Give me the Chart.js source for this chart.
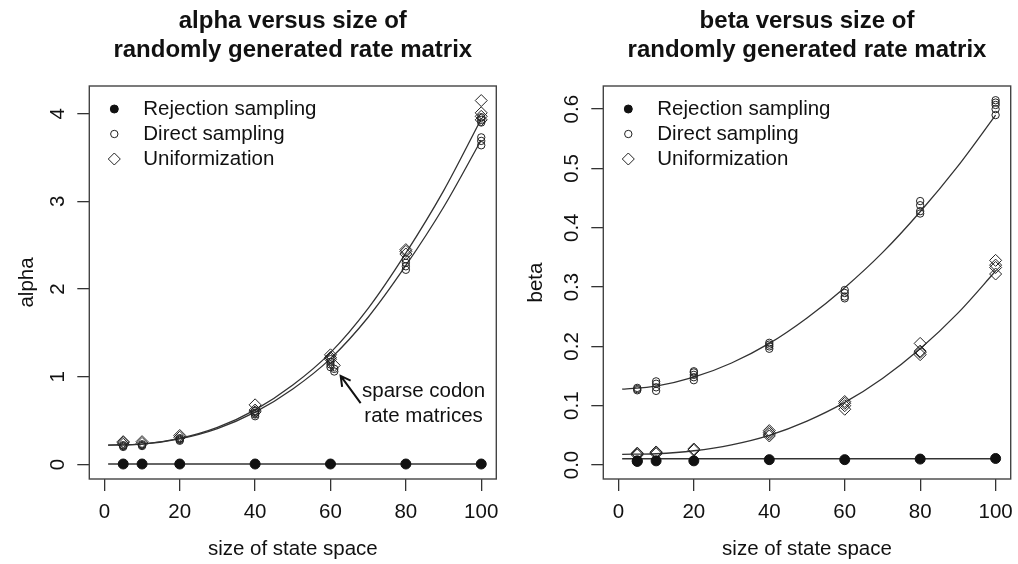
<!DOCTYPE html>
<html>
<head>
<meta charset="utf-8">
<script src="https://cdn.jsdelivr.net/npm/chart.js@4/dist/chart.umd.min.js"></script>
<style>
  html, body { margin: 0; padding: 0; background: #fff; }
  #wrap { position: relative; width: 1018px; height: 564px; }
  canvas { position: absolute; top: 0; }
  #alphaChart { left: 0; }
  #betaChart { left: 509px; }
</style>
</head>
<body>
<div id="wrap">
  <canvas id="alphaChart" width="509" height="564"></canvas>
  <canvas id="betaChart" width="509" height="564"></canvas>
</div>
<script>
const sizes = [5, 10, 20, 40, 60, 80, 100];
const xTicks = [0, 20, 40, 60, 80, 100];
const alphaTicks = [0, 1, 2, 3, 4];
const alphaTickLabels = ["0", "1", "2", "3", "4"];
const betaTicks = [0, 0.1, 0.2, 0.3, 0.4, 0.5, 0.6];
const betaTickLabels = ["0.0", "0.1", "0.2", "0.3", "0.4", "0.5", "0.6"];
const legendLabels = ["Rejection sampling", "Direct sampling", "Uniformization"];

const alphaTitle = ["alpha versus size of", "randomly generated rate matrix"];
const betaTitle = ["beta versus size of", "randomly generated rate matrix"];

// alpha panel, replicate values for each size
const alphaRejection = [[0.005], [0.005], [0.005], [0.005], [0.005], [0.005], [0.005]];
const alphaDirect = [
    [0.20, 0.21, 0.22],
    [0.21, 0.22, 0.23],
    [0.27, 0.28, 0.29, 0.30],
    [0.55, 0.57, 0.59, 0.61],
    [1.11, 1.14, 1.17, 1.20],
    [2.22, 2.26, 2.30, 2.34],
    [3.64, 3.69, 3.73, 3.90, 3.93, 3.96]
];
const alphaUniform = [
    [0.23, 0.25, 0.26],
    [0.24, 0.26],
    [0.31, 0.33],
    [0.60, 0.62, 0.68],
    [1.20, 1.22, 1.25],
    [2.40, 2.43, 2.45],
    [3.93, 3.97, 4.01, 4.15]
];
// the sparse codon rate matrices
const sparseSize = 61;
const alphaSparseDirect = [1.06, 1.09];
const alphaSparseUniform = [1.13];

// beta panel
const betaRejection = [[0.006, 0.007], [0.007], [0.007], [0.009], [0.009], [0.010], [0.011]];
const betaDirect = [
    [0.126, 0.128, 0.130],
    [0.125, 0.131, 0.137, 0.141],
    [0.143, 0.148, 0.152, 0.156, 0.158],
    [0.196, 0.200, 0.203, 0.206],
    [0.281, 0.284, 0.290, 0.295],
    [0.424, 0.428, 0.438, 0.445],
    [0.590, 0.600, 0.607, 0.611, 0.615]
];
const betaUniform = [
    [0.017, 0.019, 0.020],
    [0.019, 0.021, 0.022],
    [0.025, 0.027],
    [0.049, 0.052, 0.055, 0.058],
    [0.094, 0.100, 0.104, 0.107],
    [0.186, 0.190, 0.192, 0.205],
    [0.322, 0.333, 0.337, 0.345]
];

// fitted curves
const fitSizes = [1, 10, 20, 30, 40, 50, 60, 70, 80, 90, 100];
const alphaDirectFit = [0.22, 0.231, 0.292, 0.409, 0.596, 0.861, 1.207, 1.679, 2.269, 2.933, 3.70];
const alphaUniformFit = [0.22, 0.232, 0.297, 0.422, 0.622, 0.905, 1.275, 1.78, 2.41, 3.12, 3.94];
const betaDirectFit = [0.128, 0.133, 0.148, 0.172, 0.205, 0.248, 0.299, 0.358, 0.427, 0.504, 0.590];
const betaUniformFit = [0.018, 0.019, 0.024, 0.034, 0.050, 0.074, 0.1055, 0.146, 0.196, 0.256, 0.327];
const rejectionFitSizes = [1, 100];
const alphaRejectionFit = [0.005, 0.005];
const betaRejectionFit = [0.0105, 0.0105];

const FONT = "'Liberation Sans', Arial, Helvetica, sans-serif";
const TEXT_SIZE = 20.5;
const INK = "#111";
const LINE = "#333";

function toPoints(groups, xs) {
    const out = [];
    groups.forEach((vals, i) => vals.forEach(v => out.push({ x: xs[i], y: v })));
    return out;
}

function toLine(xs, ys) {
    return xs.map((x, i) => ({ x, y: ys[i] }));
}

function fitDataset(data) {
    return {
        data,
        showLine: true,
        pointRadius: 0,
        borderColor: LINE,
        borderWidth: 1.3,
        cubicInterpolationMode: "monotone",
        isFit: true
    };
}

function markerDatasets(rej, dir, uni) {
    return [
        { label: legendLabels[0], data: rej, pointStyle: "circle", pointRadius: 5,
          backgroundColor: INK, borderColor: INK, borderWidth: 1 },
        { label: legendLabels[1], data: dir, pointStyle: "circle", pointRadius: 3.7,
          backgroundColor: "rgba(0,0,0,0)", borderColor: "#222", borderWidth: 1 },
        { label: legendLabels[2], data: uni, pointStyle: "rectRot", pointRadius: 6,
          backgroundColor: "rgba(0,0,0,0)", borderColor: "#222", borderWidth: 1 }
    ];
}

const framePlugin = {
    id: "frame",
    afterDraw(chart) {
        const { ctx, chartArea: a } = chart;
        const cfg = chart.options.plugins.frame;
        const ys = chart.scales.y;
        const xs = chart.scales.x;
        ctx.save();

        // box round the plot region
        ctx.strokeStyle = "#444";
        ctx.lineWidth = 1.4;
        ctx.strokeRect(a.left, a.top, a.right - a.left, a.bottom - a.top);

        // title, two bold lines centred over the plot region
        ctx.fillStyle = INK;
        ctx.textAlign = "center";
        ctx.textBaseline = "alphabetic";
        ctx.font = "bold 24px " + FONT;
        const cx = (a.left + a.right) / 2;
        cfg.title.forEach((t, i) => ctx.fillText(t, cx, 28 + i * 29));

        // y tick labels, parallel to the axis
        ctx.font = TEXT_SIZE + "px " + FONT;
        ctx.textBaseline = "middle";
        cfg.yTicks.forEach((v, i) => {
            ctx.save();
            ctx.translate(a.left - 31, ys.getPixelForValue(v));
            ctx.rotate(-Math.PI / 2);
            ctx.fillText(cfg.yTickLabels[i], 0, 0);
            ctx.restore();
        });

        // legend in the top left corner
        const markers = chart.data.datasets.filter(d => !d.isFit && d.label);
        markers.forEach((d, i) => {
            const y = a.top + 23 + i * 25;
            ctx.fillStyle = d.backgroundColor;
            ctx.strokeStyle = d.borderColor;
            ctx.lineWidth = d.borderWidth;
            Chart.helpers.drawPoint(ctx, {
                pointStyle: d.pointStyle,
                radius: i === 0 ? 4 : d.pointRadius,
                borderWidth: d.borderWidth,
                rotation: 0
            }, a.left + 25, y);
            ctx.fillStyle = INK;
            ctx.textAlign = "left";
            ctx.textBaseline = "middle";
            ctx.font = TEXT_SIZE + "px " + FONT;
            ctx.fillText(d.label, a.left + 54, y);
        });

        // note with arrow
        if (cfg.note) {
            const n = cfg.note;
            ctx.fillStyle = INK;
            ctx.textAlign = "center";
            ctx.textBaseline = "middle";
            ctx.font = TEXT_SIZE + "px " + FONT;
            n.lines.forEach((t, i) => {
                ctx.fillText(t, xs.getPixelForValue(n.textX), ys.getPixelForValue(n.textY[i]));
            });
            const x0 = xs.getPixelForValue(n.from[0]), y0 = ys.getPixelForValue(n.from[1]);
            const x1 = xs.getPixelForValue(n.to[0]), y1 = ys.getPixelForValue(n.to[1]);
            const ang = Math.atan2(y1 - y0, x1 - x0);
            ctx.strokeStyle = INK;
            ctx.lineWidth = 2;
            ctx.beginPath();
            ctx.moveTo(x0, y0);
            ctx.lineTo(x1, y1);
            ctx.moveTo(x1 - 11 * Math.cos(ang - 0.5), y1 - 11 * Math.sin(ang - 0.5));
            ctx.lineTo(x1, y1);
            ctx.lineTo(x1 - 11 * Math.cos(ang + 0.5), y1 - 11 * Math.sin(ang + 0.5));
            ctx.stroke();
        }
        ctx.restore();
    }
};

function buildPanel(canvasId, p) {
    const ctx = document.getElementById(canvasId).getContext("2d");
    return new Chart(ctx, {
        type: "scatter",
        data: { datasets: p.datasets },
        options: {
            responsive: false,
            animation: false,
            events: [],
            layout: { padding: { top: 86, right: p.padRight, bottom: 0, left: 0 } },
            plugins: {
                legend: { display: false },
                tooltip: { enabled: false },
                frame: { title: p.title, yTicks: p.yTicks, yTickLabels: p.yTickLabels, note: p.note }
            },
            scales: {
                x: {
                    type: "linear",
                    min: -4,
                    max: 104,
                    afterBuildTicks: axis => { axis.ticks = xTicks.map(v => ({ value: v })); },
                    afterFit: axis => { axis.height = 85; axis.paddingLeft = 0; axis.paddingRight = 0; },
                    grid: { drawOnChartArea: false, drawTicks: true, tickLength: 12, color: LINE, lineWidth: 1.3 },
                    border: { display: false },
                    ticks: { color: INK, font: { family: FONT, size: TEXT_SIZE }, padding: 9, maxRotation: 0 },
                    title: { display: true, text: "size of state space", color: INK,
                             font: { family: FONT, size: TEXT_SIZE }, padding: { top: 0, bottom: 2 } }
                },
                y: {
                    type: "linear",
                    min: p.yMin,
                    max: p.yMax,
                    afterBuildTicks: axis => { axis.ticks = p.yTicks.map(v => ({ value: v })); },
                    afterFit: axis => { axis.width = p.axisWidth; axis.paddingTop = 0; axis.paddingBottom = 0; },
                    grid: { drawOnChartArea: false, drawTicks: true, tickLength: 12, color: LINE, lineWidth: 1.3 },
                    border: { display: false },
                    ticks: { display: false },
                    title: { display: true, text: p.yLabel, color: INK,
                             font: { family: FONT, size: TEXT_SIZE }, padding: { top: 15, bottom: 0 } }
                }
            }
        },
        plugins: [framePlugin]
    });
}

window.addEventListener("DOMContentLoaded", () => {
    const alphaSets = markerDatasets(
        toPoints(alphaRejection, sizes),
        toPoints(alphaDirect, sizes).concat(alphaSparseDirect.map(v => ({ x: sparseSize, y: v }))),
        toPoints(alphaUniform, sizes).concat(alphaSparseUniform.map(v => ({ x: sparseSize, y: v })))
    ).concat([
        fitDataset(toLine(rejectionFitSizes, alphaRejectionFit)),
        fitDataset(toLine(fitSizes, alphaDirectFit)),
        fitDataset(toLine(fitSizes, alphaUniformFit))
    ]);

    buildPanel("alphaChart", {
        datasets: alphaSets,
        title: alphaTitle,
        yLabel: "alpha",
        yMin: -0.166,
        yMax: 4.316,
        yTicks: alphaTicks,
        yTickLabels: alphaTickLabels,
        axisWidth: 89.3,
        padRight: 12.7,
        note: {
            lines: ["sparse codon", "rate matrices"],
            textX: 84.7,
            textY: [0.83, 0.545],
            from: [68, 0.70],
            to: [62.7, 1.01]
        }
    });

    const betaSets = markerDatasets(
        toPoints(betaRejection, sizes),
        toPoints(betaDirect, sizes),
        toPoints(betaUniform, sizes)
    ).concat([
        fitDataset(toLine(rejectionFitSizes, betaRejectionFit)),
        fitDataset(toLine(fitSizes, betaDirectFit)),
        fitDataset(toLine(fitSizes, betaUniformFit))
    ]);

    buildPanel("betaChart", {
        datasets: betaSets,
        title: betaTitle,
        yLabel: "beta",
        yMin: -0.0236,
        yMax: 0.639,
        yTicks: betaTicks,
        yTickLabels: betaTickLabels,
        axisWidth: 94.3,
        padRight: 7.3,
        note: null
    });
});
</script>
</body>
</html>
